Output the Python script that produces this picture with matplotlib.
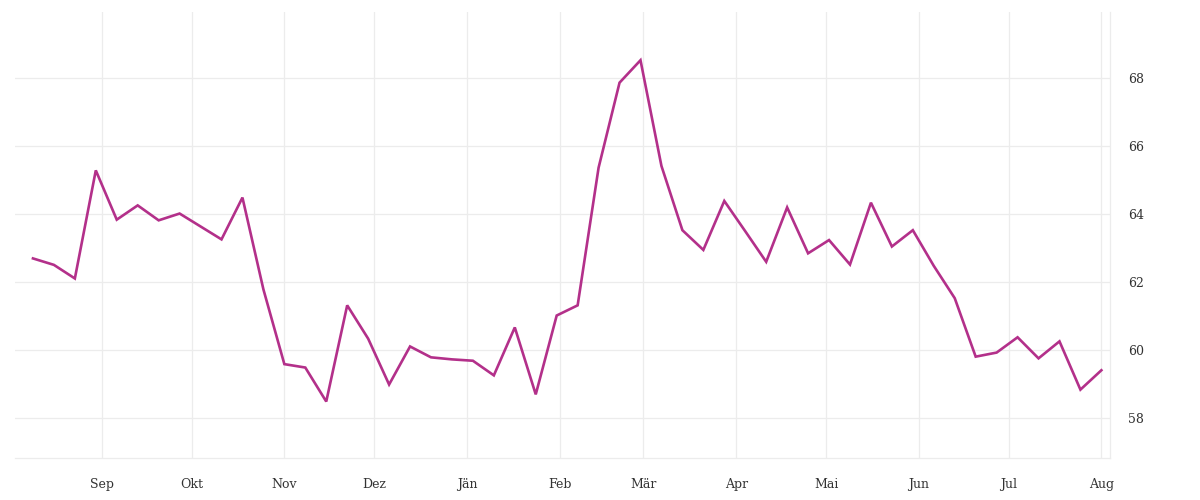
import pandas as pd
import matplotlib.pyplot as plt
import matplotlib.dates as mdates

# weekly values
start_date = "2022-08-09"
values = [
    62.70, 62.51, 62.11, 65.29, 63.84, 64.26, 63.82, 64.02, 63.64, 63.26,
    64.49, 61.79, 59.59, 59.49, 58.49, 61.32, 60.34, 58.99, 60.11, 59.79,
    59.73, 59.69, 59.26, 60.67, 58.70, 61.02, 61.32, 65.37, 67.87, 68.53,
    65.42, 63.53, 62.95, 64.39, 63.50, 62.60, 64.20, 62.85, 63.24, 62.52,
    64.34, 63.05, 63.53, 62.48, 61.53, 59.81, 59.93, 60.38, 59.76, 60.26,
    58.84, 59.41,
]
dates = pd.date_range(start_date, periods=len(values), freq="7D")

month_ticks = pd.date_range("2022-09-01", "2023-08-01", freq="MS")
month_labels = ["Sep", "Okt", "Nov", "Dez", "Jän", "Feb", "Mär",
                "Apr", "Mai", "Jun", "Jul", "Aug"]
y_ticks = [58, 60, 62, 64, 66, 68]

plt.rcParams['font.family'] = ['DejaVu Serif', 'DejaVu Sans']

fig = plt.figure(figsize=(12, 5), dpi=100)
ax = fig.add_axes([0.0125, 0.0834, 0.9128, 0.892])

ax.plot(dates, values, color="#b3308a", linewidth=1.9, solid_joinstyle="miter")

ax.set_xlim(pd.Timestamp("2022-08-03"), pd.Timestamp("2023-08-04"))
ax.set_ylim(56.82, 69.94)

ax.set_xticks(month_ticks)
ax.set_xticklabels(month_labels)
ax.set_yticks(y_ticks)
ax.set_yticklabels([str(t) for t in y_ticks])
ax.yaxis.tick_right()

ax.grid(True, color="#ececec", linewidth=0.9)
ax.set_axisbelow(True)
ax.tick_params(length=0, labelsize=9, colors="#333333")
ax.tick_params(axis="x", pad=14)
ax.tick_params(axis="y", pad=13)

for side in ["top", "left"]:
    ax.spines[side].set_visible(False)
for side in ["bottom", "right"]:
    ax.spines[side].set_color("#ececec")
    ax.spines[side].set_linewidth(0.9)

fig.savefig("out.png", dpi=100, facecolor="white")
